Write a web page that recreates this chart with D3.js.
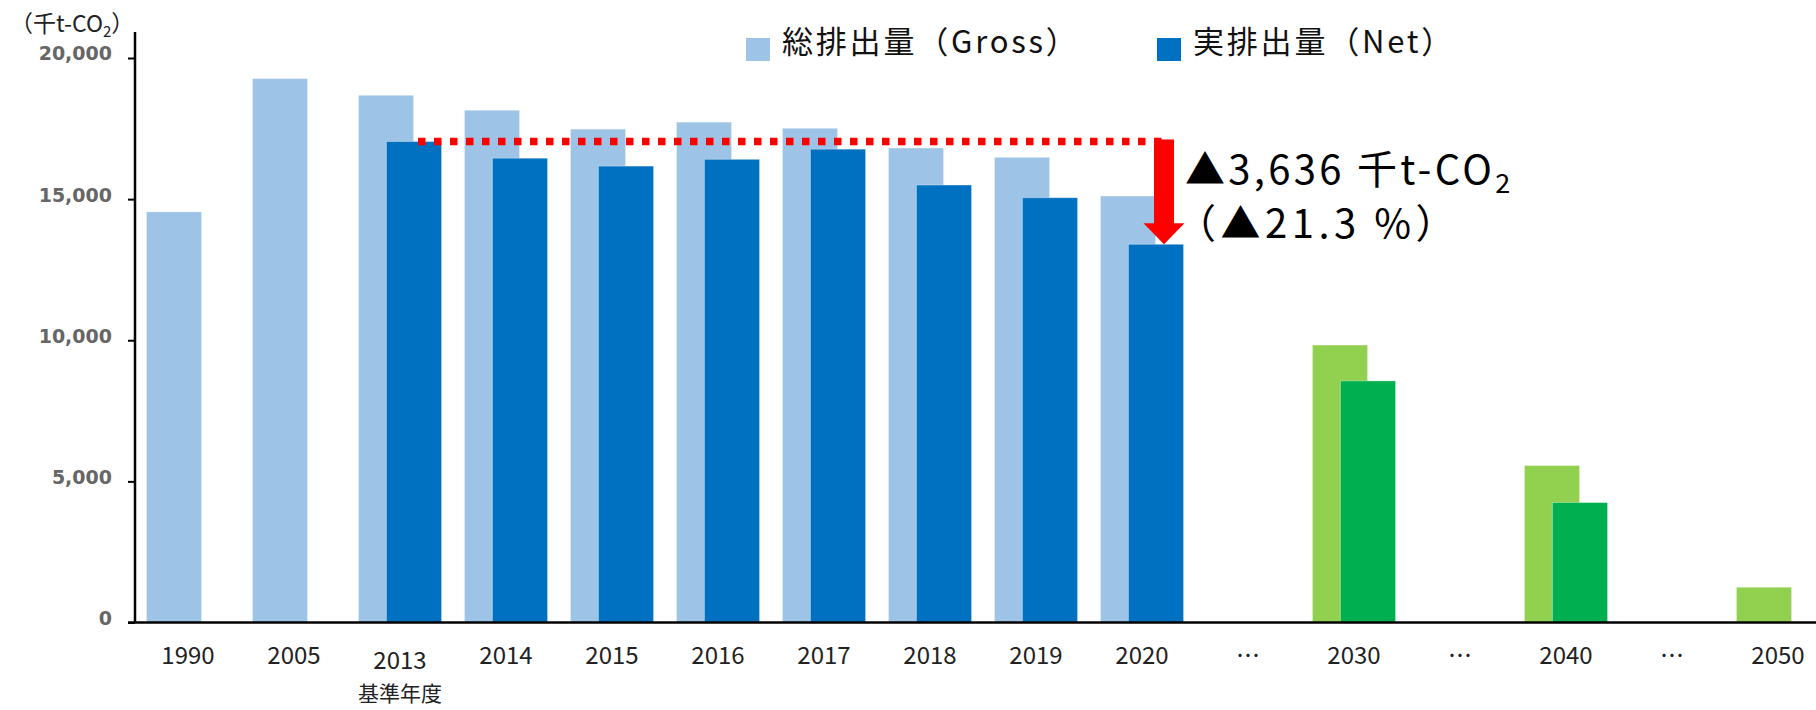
<!DOCTYPE html>
<html>
<head>
<meta charset="utf-8">
<script src="https://cdn.jsdelivr.net/npm/d3@7"></script>
<style>
  body { margin: 0; background: #fff; }
  svg { display: block; }
</style>
</head>
<body>
<div id="chart"></div>
<script>
// emissions (千t-CO2)
const labels = ["1990", "2005", "2013", "2014", "2015", "2016", "2017", "2018", "2019", "2020", "…", "2030", "…", "2040", "…", "2050"];
const gross = [14550, 19270, 18680, 18150, 17480, 17730, 17510, 16810, 16480, 15110, null, 9830, null, 5560, null, 1250];
const net = [null, null, 17040, 16450, 16170, 16410, 16770, 15500, 15050, 13400, null, 8560, null, 4250, null, null];
const future = ["2030", "2040", "2050"];
const yTicks = [0, 5000, 10000, 15000, 20000];
const baseYear = "2013", lastYear = "2020";

const width = 1816, height = 710;
const margin = { top: 32, left: 135, bottom: 87 };

const svg = d3.select("#chart").append("svg")
  .attr("width", width).attr("height", height)
  .attr("viewBox", [0, 0, width, height]);

let x = d3.scaleBand()
  .domain(d3.range(labels.length))
  .range([margin.left, margin.left + 106 * labels.length]);

let y = d3.scaleLinear()
  .domain([0, 20000])
  .range([622.5, 58]);

let bw = x.bandwidth() * 0.52;
let off = x.bandwidth() * 0.132;

const colors = {
  gross: "#9DC3E6", net: "#0070C0",
  grossF: "#92D050", netF: "#00B050"
};

// bars
labels.forEach((lab, i) => {
  let isF = future.includes(lab);
  let cx = x(i) + x.bandwidth() / 2;
  if (gross[i] != null) {
    svg.append("rect")
      .attr("x", cx - off - bw / 2).attr("y", y(gross[i]))
      .attr("width", bw).attr("height", y(0) - y(gross[i]))
      .attr("fill", isF ? colors.grossF : colors.gross)
      .attr("stroke", "#fff").attr("stroke-opacity", 0.35);
  }
  if (net[i] != null) {
    svg.append("rect")
      .attr("x", cx + off - bw / 2).attr("y", y(net[i]))
      .attr("width", bw).attr("height", y(0) - y(net[i]))
      .attr("fill", isF ? colors.netF : colors.net)
      .attr("stroke", "#fff").attr("stroke-opacity", 0.35);
  }
});

// y axis
let yAxis = svg.append("g")
  .attr("transform", `translate(${margin.left},0)`)
  .call(d3.axisLeft(y).tickValues(yTicks).tickSize(7).tickPadding(16).tickFormat(d3.format(",")));
yAxis.select(".domain").remove();
yAxis.selectAll("line").attr("stroke", "#000").attr("stroke-width", 2);
yAxis.selectAll("text")
  .attr("font-family", "DejaVu Sans").attr("font-weight", "bold")
  .attr("font-size", 19).attr("fill", "#666").attr("dy", "0.1em");
svg.append("line")
  .attr("x1", margin.left).attr("x2", margin.left)
  .attr("y1", margin.top).attr("y2", y(0))
  .attr("stroke", "#000").attr("stroke-width", 2.5);

// x axis
let xAxis = svg.append("g")
  .attr("transform", `translate(0,${y(0)})`)
  .call(d3.axisBottom(x).tickSize(0).tickPadding(0).tickFormat(i => labels[i]));
xAxis.select(".domain").remove();
xAxis.selectAll("text")
  .attr("font-family", "Noto Sans CJK JP")
  .attr("font-size", 24).attr("fill", "#222")
  .attr("dy", null)
  .attr("y", (i) => labels[i] === baseYear ? 46.5 : 41.5);
svg.append("line")
  .attr("x1", 128).attr("x2", width)
  .attr("y1", y(0)).attr("y2", y(0))
  .attr("stroke", "#000").attr("stroke-width", 2.5);

let iBase = labels.indexOf(baseYear);
svg.append("text")
  .attr("x", x(iBase) + x.bandwidth() / 2).attr("y", 701)
  .attr("text-anchor", "middle")
  .attr("font-family", "Noto Sans CJK JP").attr("font-size", 21).attr("fill", "#222")
  .text("基準年度");

// unit label
let unit = svg.append("text")
  .attr("x", 10).attr("y", 32)
  .attr("font-family", "Noto Sans CJK JP").attr("font-size", 23).attr("fill", "#222");
unit.append("tspan").text("（千t-CO");
unit.append("tspan").attr("font-size", 15).attr("dy", 5).text("2");
unit.append("tspan").attr("dy", -5).text("）");

// legend
const legend = [
  { name: "総排出量（Gross）", color: colors.gross, x: 746 },
  { name: "実排出量（Net）", color: colors.net, x: 1157 }
];
legend.forEach(l => {
  svg.append("rect").attr("x", l.x).attr("y", 38).attr("width", 24).attr("height", 23).attr("fill", l.color);
  svg.append("text").attr("x", l.x + 36).attr("y", 53)
    .attr("font-family", "Noto Sans CJK JP").attr("font-size", 31).attr("fill", "#111")
    .attr("letter-spacing", 2.8)
    .text(l.name);
});

// reduction annotation
let iLast = labels.indexOf(lastYear);
let baseV = net[iBase], lastV = net[iLast];
let ax = x(iLast) + x.bandwidth() / 2 + off + 8;
svg.append("line")
  .attr("x1", x(iBase) + x.bandwidth() / 2 + off + 4).attr("x2", ax - 2)
  .attr("y1", y(baseV)).attr("y2", y(baseV))
  .attr("stroke", "#FF0000").attr("stroke-width", 7.5)
  .attr("stroke-dasharray", "7.5 8.5");
let headH = 21, headW = 41, shaft = 20;
let arrTop = y(baseV) - 2, arrTip = y(lastV);
svg.append("path")
  .attr("d", `M${ax - shaft / 2},${arrTop} H${ax + shaft / 2} V${arrTip - headH} H${ax + headW / 2} L${ax},${arrTip} L${ax - headW / 2},${arrTip - headH} H${ax - shaft / 2} Z`)
  .attr("fill", "#FF0000");

let ann = svg.append("text")
  .attr("x", 1185).attr("y", 184)
  .attr("font-family", "Noto Sans CJK JP").attr("font-size", 40).attr("fill", "#000")
  .attr("letter-spacing", 3.3);
ann.append("tspan").text("▲3,636 千t-CO");
ann.append("tspan").attr("font-size", 27).attr("dy", 9).text("2");
svg.append("text")
  .attr("x", 1176).attr("y", 238)
  .attr("font-family", "Noto Sans CJK JP").attr("font-size", 40).attr("fill", "#000")
  .attr("letter-spacing", 4.5)
  .text("（▲21.3 %）");
</script>
</body>
</html>
